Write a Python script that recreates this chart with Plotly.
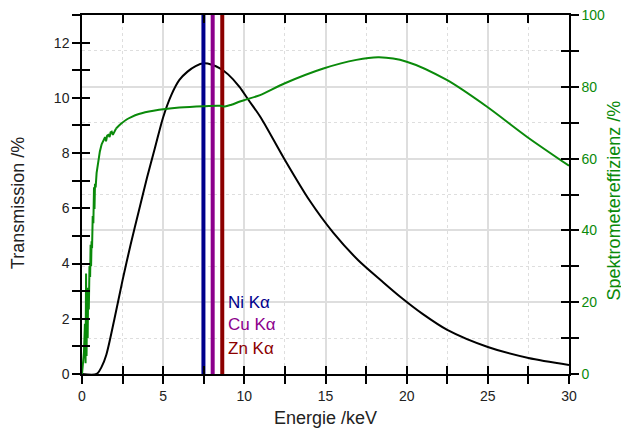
import plotly.graph_objects as go

# Transmission curve (left axis, %)
energy_T = [0.0, 0.9, 1.2, 1.5, 2.0, 2.5, 3.0, 3.5, 4.0, 4.5, 5.0, 5.5, 6.0, 6.5, 7.0, 7.5,
            8.0, 8.5, 9.0, 9.7, 10.25, 11.0, 12.5, 14.0, 15.5, 17.0, 18.5, 19.6, 21.0,
            22.5, 25.0, 27.5, 30.0]
transmission = [0.0, 0.0, 0.25, 0.7, 2.0, 3.4, 4.7, 5.9, 7.1, 8.2, 9.3, 10.1, 10.65, 10.95,
                11.15, 11.25, 11.2, 11.07, 10.85, 10.4, 9.93, 9.3, 7.75, 6.3, 5.1, 4.13,
                3.35, 2.8, 2.17, 1.6, 0.98, 0.58, 0.33]

# Spectrometer efficiency (right axis, %) - noisy low-energy part
energy_E_low = [0.0, 0.12, 0.18, 0.22, 0.25, 0.28, 0.31, 0.35, 0.38, 0.42, 0.46, 0.50, 0.53,
                0.56, 0.59, 0.62, 0.66, 0.70, 0.74, 0.77, 0.80, 0.84, 0.90, 1.00, 1.10,
                1.21, 1.32, 1.42, 1.48, 1.55, 1.62, 1.70, 1.76, 1.83, 1.90, 2.0, 2.1]
eff_low = [0, 6, 14, 3, 28, 5, 20, 10, 24, 18, 30, 27, 36, 30, 37, 35, 44, 42, 52, 46, 53,
           52, 56, 59.6, 62, 64, 65, 66, 64.8, 66.4, 66.6, 66, 67.3, 67.5, 66.6, 67.6, 68.4]
# smooth high-energy part
energy_E_high = [2.1, 2.4, 2.75, 3.0, 3.5, 4.4, 6.0, 7.5, 8.5, 8.8, 9.2, 9.73, 10.15, 10.97,
                 12.5, 14.87, 16.9, 18.3, 20.0, 22.47, 24.93, 27.4, 30.0]
eff_high = [68.4, 69.7, 70.9, 71.5, 72.4, 73.3, 74.2, 74.6, 74.7, 74.5, 75.0, 75.9, 76.5,
            77.7, 81.0, 85.1, 87.5, 88.2, 87.0, 81.9, 74.5, 66.1, 58.0]

# K-alpha lines (keV)
line_names = ["Ni Kα", "Cu Kα", "Zn Kα"]
line_energies = [7.48, 8.05, 8.64]
line_colors = ["#00008c", "#8c008c", "#8c0000"]
label_y = [2.6, 1.78, 0.94]

green = "#0a8a0a"
font_family = "Liberation Sans, Arial, sans-serif"

fig = go.Figure()

fig.add_trace(go.Scatter(x=energy_T, y=transmission, mode="lines",
                         line=dict(color="black", width=2, shape="spline", smoothing=0.8),
                         yaxis="y", showlegend=False, hoverinfo="skip"))
fig.add_trace(go.Scatter(x=energy_E_low, y=eff_low, mode="lines",
                         line=dict(color=green, width=2),
                         yaxis="y2", showlegend=False, hoverinfo="skip"))
fig.add_trace(go.Scatter(x=energy_E_high, y=eff_high, mode="lines",
                         line=dict(color=green, width=2, shape="spline", smoothing=0.8),
                         yaxis="y2", showlegend=False, hoverinfo="skip"))

for e, c in zip(line_energies, line_colors):
    fig.add_trace(go.Scatter(x=[e, e], y=[0, 13], mode="lines",
                             line=dict(color=c, width=4), yaxis="y",
                             showlegend=False, hoverinfo="skip"))

for name, c, yv in zip(line_names, line_colors, label_y):
    fig.add_annotation(x=8.9, y=yv, xref="x", yref="y", text=name, showarrow=False,
                       xanchor="left", yanchor="middle",
                       font=dict(color=c, size=17, family=font_family))

# axis titles
fig.add_annotation(x=-0.13, y=0.475, xref="paper", yref="paper", text="Transmission /%",
                   textangle=-90, showarrow=False, xanchor="center", yanchor="middle",
                   font=dict(size=18, color="#222", family=font_family))
fig.add_annotation(x=1.092, y=0.483, xref="paper", yref="paper",
                   text="Spektrometereffizienz /%", textangle=-90, showarrow=False,
                   xanchor="center", yanchor="middle",
                   font=dict(size=18, color=green, family=font_family))
fig.add_annotation(x=0.5, y=-0.122, xref="paper", yref="paper", text="Energie /keV",
                   showarrow=False, xanchor="center", yanchor="middle",
                   font=dict(size=18, color="#222", family=font_family))

grid_col = "#dedede"
tickfont = dict(size=14, color="#222", family=font_family)

fig.update_layout(
    width=621, height=421,
    margin=dict(l=74, r=60, t=7, b=55, autoexpand=False),
    paper_bgcolor="white", plot_bgcolor="white",
    font=dict(family=font_family),
    xaxis=dict(range=[0, 30], dtick=5, tick0=0, ticks="outside", ticklen=8, tickwidth=1.5,
               tickcolor="black", showline=True, linecolor="black", linewidth=1.5,
               mirror=True, showgrid=True, gridcolor=grid_col, gridwidth=1.5,
               zeroline=False, tickfont=tickfont, automargin=False,
               ticklabeloverflow="allow",
               minor=dict(dtick=2.5, ticks="outside", ticklen=8, tickwidth=1.5,
                          tickcolor="black", showgrid=True, gridcolor=grid_col,
                          griddash="dot", gridwidth=1)),
    xaxis3=dict(range=[0, 30], dtick=5, tick0=0, overlaying="x", ticks="inside", ticklen=8,
                tickwidth=1.5, tickcolor="black", mirror="ticks", showline=False,
                showticklabels=False, showgrid=False, zeroline=False, automargin=False,
                minor=dict(dtick=2.5, ticks="inside", ticklen=8, tickwidth=1.5,
                           tickcolor="black", showgrid=False)),
    yaxis=dict(range=[0, 13], dtick=2, tick0=0, ticks="outside", ticklen=8, tickwidth=1.5,
               tickcolor="black", showline=True, linecolor="black", linewidth=1.5,
               showgrid=False, zeroline=False, tickfont=tickfont, automargin=False,
               ticklabeloverflow="allow",
               minor=dict(dtick=1, ticks="outside", ticklen=8, tickwidth=1.5,
                          tickcolor="black", showgrid=False)),
    yaxis3=dict(range=[0, 13], dtick=2, tick0=0, overlaying="y", side="left",
                ticks="inside", ticklen=8, tickwidth=1.5, tickcolor="black",
                showline=False, showticklabels=False, showgrid=False, zeroline=False,
                automargin=False,
                minor=dict(dtick=1, ticks="inside", ticklen=8, tickwidth=1.5,
                           tickcolor="black", showgrid=False)),
    yaxis2=dict(range=[0, 100], dtick=20, tick0=0, overlaying="y", side="right",
                ticks="outside", ticklen=8, tickwidth=1.5, tickcolor="black",
                showline=True, linecolor="black", linewidth=1.5,
                showgrid=True, gridcolor=grid_col, gridwidth=1.5, zeroline=False,
                tickfont=dict(size=14, color=green, family=font_family), automargin=False,
                ticklabeloverflow="allow",
                minor=dict(dtick=10, ticks="outside", ticklen=8, tickwidth=1.5,
                           tickcolor="black", showgrid=True, gridcolor=grid_col,
                           griddash="dot", gridwidth=1)),
    yaxis4=dict(range=[0, 100], dtick=20, tick0=0, overlaying="y", side="right",
                ticks="inside", ticklen=8, tickwidth=1.5, tickcolor="black",
                showline=False, showticklabels=False, showgrid=False, zeroline=False,
                automargin=False,
                minor=dict(dtick=10, ticks="inside", ticklen=8, tickwidth=1.5,
                           tickcolor="black", showgrid=False)),
)

# invisible traces to activate overlay tick axes
fig.add_trace(go.Scatter(x=[None], y=[None], xaxis="x3", yaxis="y3", showlegend=False,
                         hoverinfo="skip"))
fig.add_trace(go.Scatter(x=[None], y=[None], xaxis="x3", yaxis="y4", showlegend=False,
                         hoverinfo="skip"))

fig.write_html("out.html")
